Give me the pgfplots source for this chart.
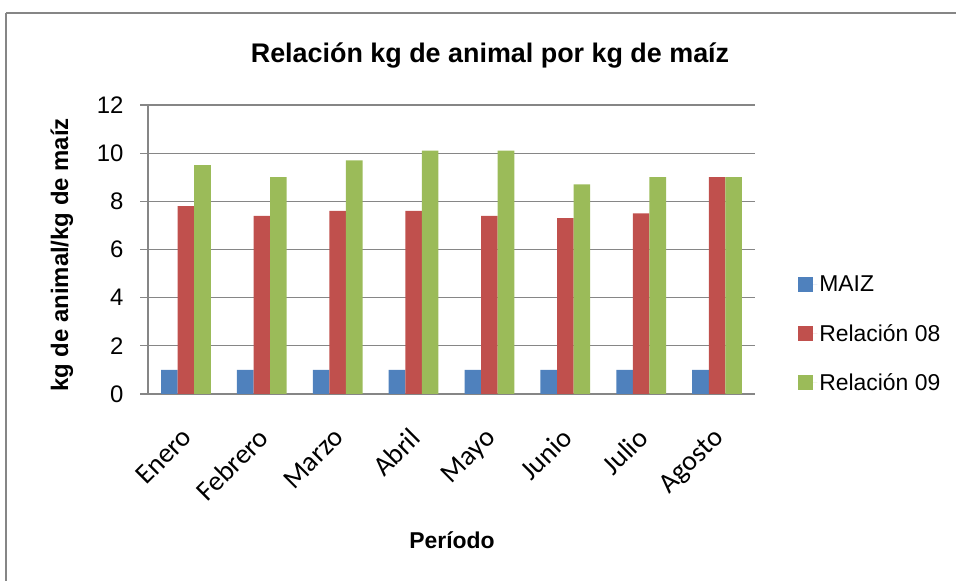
\documentclass[border=0pt]{standalone}
\usepackage{fontspec}
\setmainfont{Liberation Sans}
\newfontfamily\calfont{Carlito}
\usepackage{pgfplots}
\pgfplotsset{compat=1.18}

\definecolor{maiz}{RGB}{79,129,189}
\definecolor{rel08}{RGB}{192,80,77}
\definecolor{rel09}{RGB}{155,187,89}
\definecolor{axgray}{RGB}{134,134,134}

\begin{document}
\begin{tikzpicture}[x=1bp,y=1bp]
\useasboundingbox (0,0) rectangle (956,581);
% chart frame
\draw[axgray, line width=2.5bp] (6,568) -- (956,568);
\draw[axgray, line width=2.5bp] (6,568) -- (6,0);

\begin{axis}[
  at={(148bp,187bp)}, anchor=south west,
  scale only axis,
  width=607bp, height=289bp,
  ybar=0pt, bar width=16.6bp,
  xmin=-0.5, xmax=7.5,
  ymin=0, ymax=12,
  xtick={0,...,7},
  xticklabels={Enero,Febrero,Marzo,Abril,Mayo,Junio,Julio,Agosto},
  major x tick style={draw=none},
  extra x ticks={-0.5,0.5,...,7.5},
  extra x tick labels={},
  extra x tick style={grid=none, major tick length=8bp, tick style={axgray, line width=1.3bp}},
  ytick={0,2,...,12},
  ymajorgrids,
  grid style={axgray, line width=1.3bp},
  axis x line*=bottom, axis y line*=left,
  axis line style={axgray, line width=1.3bp},
  tick align=outside, major tick length=8bp,
  tick style={axgray, line width=1.3bp},
  /pgf/number format/assume math mode=true,
  yticklabel style={font=\fontsize{24}{28}\selectfont, xshift=-13bp},
  xticklabel style={font=\calfont\fontsize{28}{32}\selectfont, rotate=45, anchor=north east, xshift=-17.5bp, yshift=-10bp},
  legend style={at={(1.071,0.208)}, anchor=west, draw=none, fill=none, inner sep=0pt,
    font=\fontsize{23}{27}\selectfont, row sep=27bp, cells={anchor=west}},
  legend image code/.code={\fill[#1] (0bp,-7.5bp) rectangle (15bp,7.5bp);
    \path (0bp,0bp) -- (19bp,0bp);},
]
\addplot[fill=maiz, draw=none] coordinates {(0,1) (1,1) (2,1) (3,1) (4,1) (5,1) (6,1) (7,1)};
\addplot[fill=rel08, draw=none] coordinates {(0,7.8) (1,7.4) (2,7.6) (3,7.6) (4,7.4) (5,7.3) (6,7.5) (7,9.0)};
\addplot[fill=rel09, draw=none] coordinates {(0,9.5) (1,9.0) (2,9.7) (3,10.1) (4,10.1) (5,8.7) (6,9.0) (7,9.0)};
\legend{MAIZ, Relación 08, Relación 09}
\end{axis}

\node[font=\bfseries\fontsize{27}{32}\selectfont] at (490,526) {Relación kg de animal por kg de maíz};
\node[font=\bfseries\fontsize{24}{28}\selectfont, rotate=90] at (62,326) {kg de animal/kg de maíz};
\node[font=\bfseries\fontsize{23}{27}\selectfont] at (452,41) {Período};
\end{tikzpicture}
\end{document}
